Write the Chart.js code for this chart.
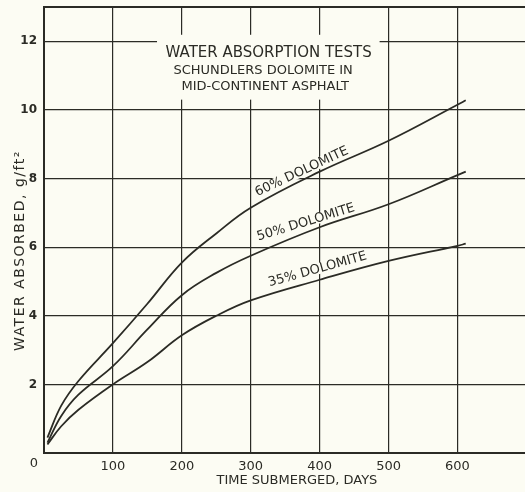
<!DOCTYPE html>
<html>
<head>
<meta charset="utf-8">
<script src="https://cdn.jsdelivr.net/npm/chart.js@4"></script>
<style>
  html, body { margin: 0; padding: 0; background: #fcfcf3; }
  #wrap { width: 525px; height: 492px; }
</style>
</head>
<body>
<div id="wrap"><canvas id="absorptionChart"></canvas></div>
<script>
// days submerged, shared by the three curves
const days = [5, 25, 50, 100, 150, 200, 250, 300, 400, 500, 600, 612];
const dolomite60 = [0.45, 1.38, 2.1, 3.2, 4.35, 5.55, 6.4, 7.15, 8.2, 9.1, 10.15, 10.28];
const dolomite50 = [0.3, 1.08, 1.7, 2.53, 3.6, 4.6, 5.25, 5.75, 6.58, 7.25, 8.1, 8.2];
const dolomite35 = [0.25, 0.78, 1.26, 2.0, 2.65, 3.43, 4.0, 4.45, 5.05, 5.6, 6.04, 6.1];

const curveLabels = ['60% DOLOMITE', '50% DOLOMITE', '35% DOLOMITE'];
const xTicks = [0, 100, 200, 300, 400, 500, 600];
const yTicks = [0, 2, 4, 6, 8, 10, 12];

const titleLines = ['WATER ABSORPTION TESTS', 'SCHUNDLERS DOLOMITE IN', 'MID-CONTINENT ASPHALT'];
const xTitle = 'TIME SUBMERGED, DAYS';
const yTitle = 'WATER ABSORBED, g/ft\u00B2';

const BG = '#fcfcf3';
const INK = '#2b2b25';
const FONT = '"DejaVu Sans", sans-serif';

function toPoints(vals) {
    return vals.map((v, i) => ({ x: days[i], y: v }));
}

function curve(label, vals) {
    return {
        label: label,
        data: toPoints(vals),
        borderColor: INK,
        borderWidth: 1.8,
        pointRadius: 0,
        fill: false,
        tension: 0.4
    };
}

// title block, curve labels, axis titles and the odd "0"
const decorations = {
    id: 'decorations',
    beforeDatasetsDraw(chart) {
        const ctx = chart.ctx;
        const xs = chart.scales.x, ys = chart.scales.y;
        const area = chart.chartArea;
        ctx.save();

        // top border
        ctx.strokeStyle = INK;
        ctx.lineWidth = 2;
        ctx.beginPath();
        ctx.moveTo(area.left, area.top);
        ctx.lineTo(area.right, area.top);
        ctx.stroke();

        // blank box behind the title
        const bx0 = xs.getPixelForValue(164), bx1 = xs.getPixelForValue(487);
        const by0 = ys.getPixelForValue(12.19), by1 = ys.getPixelForValue(10.3);
        ctx.fillStyle = BG;
        ctx.fillRect(bx0, by0, bx1 - bx0, by1 - by0);

        ctx.fillStyle = INK;
        ctx.textAlign = 'center';
        ctx.textBaseline = 'middle';
        ctx.font = '15px ' + FONT;
        ctx.fillText(titleLines[0], xs.getPixelForValue(326), ys.getPixelForValue(11.66));
        ctx.font = '13px ' + FONT;
        ctx.fillText(titleLines[1], xs.getPixelForValue(318), ys.getPixelForValue(11.14));
        ctx.fillText(titleLines[2], xs.getPixelForValue(321), ys.getPixelForValue(10.68));

        // labels along the curves
        const spots = [
            { x: 374, y: 8.2, angle: -25 },
            { x: 380, y: 6.72, angle: -17 },
            { x: 397, y: 5.35, angle: -15.6 }
        ];
        ctx.font = '13px ' + FONT;
        spots.forEach((s, i) => {
            const px = xs.getPixelForValue(s.x), py = ys.getPixelForValue(s.y);
            const w = ctx.measureText(curveLabels[i]).width;
            ctx.save();
            ctx.translate(px, py);
            ctx.rotate(s.angle * Math.PI / 180);
            ctx.fillStyle = BG;
            ctx.fillRect(-w / 2 - 2, -6, w + 4, 11);
            ctx.fillStyle = INK;
            ctx.fillText(curveLabels[i], 0, 0);
            ctx.restore();
        });

        // "0" sits below-left of the origin
        ctx.font = '13px ' + FONT;
        ctx.fillText('0', xs.getPixelForValue(0) - 10, ys.getPixelForValue(0) + 11);

        // axis titles
        ctx.font = '13px ' + FONT;
        ctx.fillText(xTitle, xs.getPixelForValue(367), chart.height - 11);
        ctx.save();
        ctx.translate(20, ys.getPixelForValue(5.9));
        ctx.rotate(-Math.PI / 2);
        ctx.font = '14px ' + FONT;
        ctx.letterSpacing = '1.5px';
        ctx.fillText(yTitle, 0, 0);
        ctx.restore();

        ctx.restore();
    }
};

const ctx = document.getElementById('absorptionChart').getContext('2d');
new Chart(ctx, {
    type: 'line',
    data: {
        datasets: [
            curve(curveLabels[0], dolomite60),
            curve(curveLabels[1], dolomite50),
            curve(curveLabels[2], dolomite35)
        ]
    },
    options: {
        responsive: true,
        maintainAspectRatio: false,
        animation: false,
        devicePixelRatio: 1,
        layout: { padding: { top: 7, left: 0, right: 0, bottom: 0 } },
        plugins: {
            legend: { display: false },
            tooltip: { enabled: false }
        },
        scales: {
            x: {
                type: 'linear',
                min: 0,
                max: 698,
                afterBuildTicks: (scale) => { scale.ticks = xTicks.map(v => ({ value: v })); },
                afterFit: (scale) => {
                    scale.height = 39;
                    scale.paddingLeft = 0;
                    scale.paddingRight = 0;
                },
                grid: { color: INK, lineWidth: 1.2, drawTicks: false },
                border: { color: INK, width: 2 },
                ticks: {
                    padding: 6,
                    color: INK,
                    font: { family: FONT, size: 13 },
                    callback: (v) => v === 0 ? '' : v
                }
            },
            y: {
                type: 'linear',
                min: 0,
                max: 13,
                afterBuildTicks: (scale) => { scale.ticks = yTicks.map(v => ({ value: v })); },
                afterFit: (scale) => {
                    scale.width = 44;
                    scale.paddingTop = 0;
                    scale.paddingBottom = 0;
                },
                grid: { color: INK, lineWidth: 1.2, drawTicks: false },
                border: { color: INK, width: 2 },
                ticks: {
                    padding: 7,
                    color: INK,
                    font: { family: FONT, size: 12, weight: 'bold' },
                    callback: (v) => v === 0 ? '' : v
                }
            }
        }
    },
    plugins: [decorations]
});
</script>
</body>
</html>
